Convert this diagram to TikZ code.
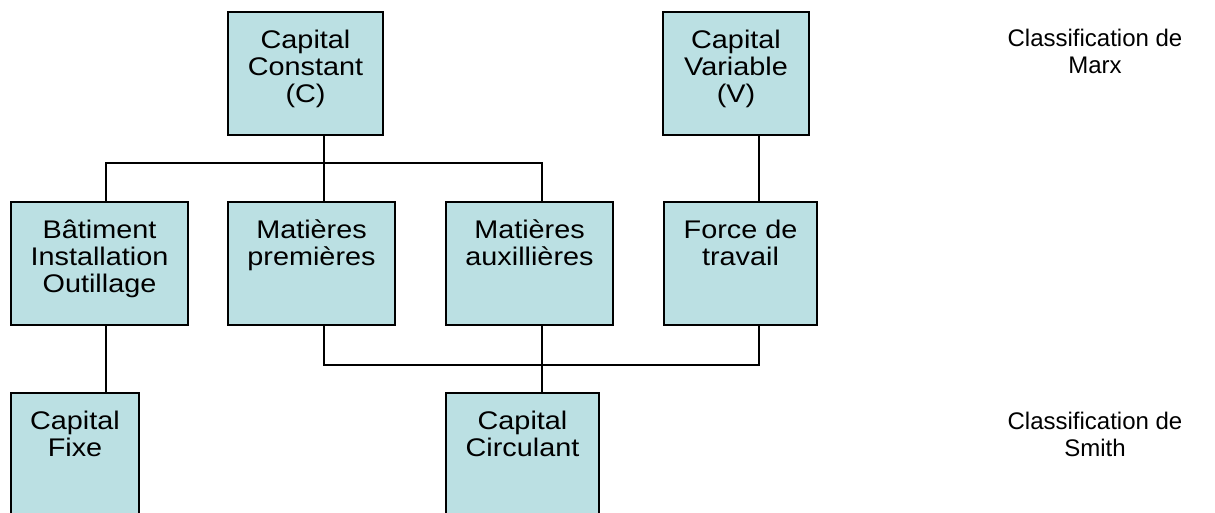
\documentclass[tikz,border=0pt]{standalone}
\usepackage{fontspec}
\setmainfont{Liberation Sans}
\newfontfamily\cellfont{Liberation Sans}[FakeStretch=1.13]
\definecolor{cellfill}{RGB}{187,224,227}

\begin{document}
\begin{tikzpicture}[x=1pt, y=-1pt,
  every node/.style={font=\fontsize{24}{27}\selectfont},
  cell/.style={draw, line width=1.6pt, fill=cellfill, align=center, minimum height=123pt, inner sep=0pt,
    font=\cellfont\fontsize{25.5}{27}\selectfont, execute at end node={\rule[-14.5pt]{0pt}{0pt}}},
  link/.style={line width=1.3pt}]
\useasboundingbox (0,0) rectangle (1215,512);
\clip (0,0) rectangle (1215,512);

% Marx
\node[cell, minimum width=155pt] (cc) at (305.5,73.5) {Capital\\Constant\\(C)};
\node[cell, minimum width=146pt] (cv) at (736,73.5) {Capital\\Variable\\(V)};

% components
\node[cell, minimum width=177pt] (bat) at (99.5,263.5) {B\^atiment\\Installation\\Outillage};
\node[cell, minimum width=167pt] (mp) at (311.5,263.5) {Mati\`eres\\premi\`eres\\~};
\node[cell, minimum width=167pt] (aux) at (529.5,263.5) {Mati\`eres\\auxilli\`eres\\~};
\node[cell, minimum width=153pt] (ft) at (740.5,263.5) {Force de\\travail\\~};

% Smith
\node[cell, minimum width=128pt] (fixe) at (75,454.5) {Capital\\Fixe\\~};
\node[cell, minimum width=153pt] (circ) at (522.5,454.5) {Capital\\Circulant\\~};

\node[align=center] (marx) at (1095,51.75) {Classification de\\Marx};
\node[align=center] (smith) at (1095,434.25) {Classification de\\Smith};

\coordinate (kb) at (106,163);
\coordinate (kp) at (324,163);
\coordinate (ka) at (542,163);
\coordinate (lp) at (324,365);
\coordinate (la) at (542,365);
\coordinate (lf) at (759,365);

\draw[link] (bat.north -| kb) -- (kb) -- (ka) -- (aux.north -| ka);
\draw[link] (cc.south -| kp) -- (mp.north -| kp);
\draw[link] (cv.south -| lf) -- (ft.north -| lf);
\draw[link] (mp.south -| lp) -- (lp) -- (lf) -- (ft.south -| lf);
\draw[link] (aux.south -| la) -- (circ.north -| la);
\draw[link] (bat.south -| kb) -- (fixe.north -| kb);
\end{tikzpicture}
\end{document}
